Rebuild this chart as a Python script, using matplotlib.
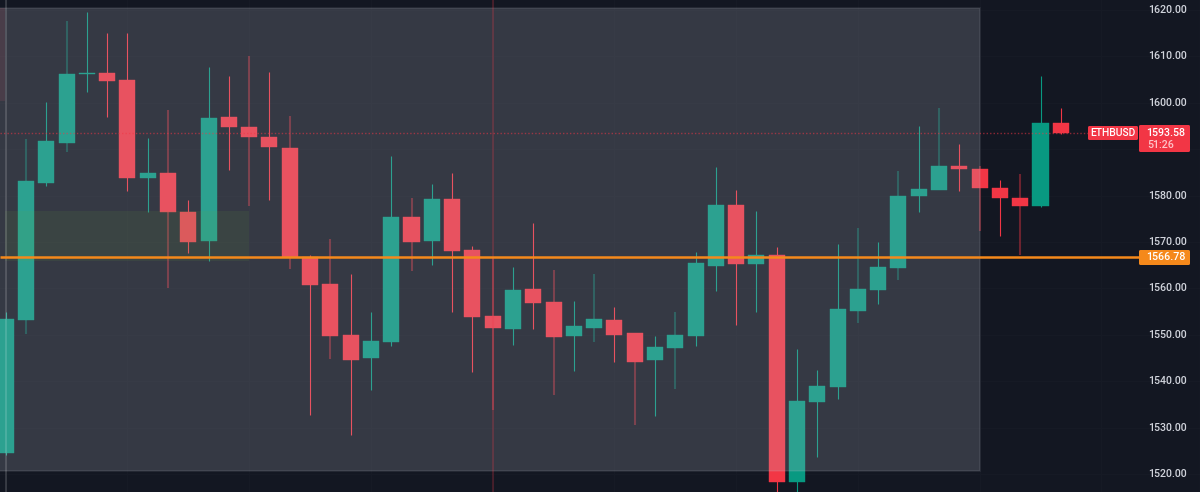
import matplotlib
matplotlib.use('Agg')
import matplotlib.pyplot as plt
from matplotlib.patches import Rectangle, FancyBboxPatch
from matplotlib.transforms import IdentityTransform

W, H = 1200, 492
BG = '#131722'
UP = '#089981'
DOWN = '#f23645'
ORANGE = '#f5891b'

# first candle sits half cut off at the left edge, so index starts at -1
first_index = -1
opens = [1524.5, 1553.2, 1582.7, 1591.3, 1606.3, 1606.5, 1604.9, 1583.8, 1584.8, 1576.5,
         1570.2, 1596.9, 1594.8, 1592.6, 1590.3, 1566.8, 1560.9, 1550.0, 1545.0, 1548.4,
         1575.4, 1570.2, 1579.3, 1568.3, 1554.1, 1551.2, 1559.9, 1557.1, 1549.7, 1551.5,
         1553.2, 1550.4, 1544.6, 1547.2, 1549.7, 1564.8, 1578.0, 1565.3, 1567.2, 1518.3,
         1535.5, 1538.8, 1555.1, 1559.7, 1564.4, 1579.9, 1581.2, 1586.4, 1585.7, 1581.6,
         1579.5, 1577.8, 1595.6]
closes = [1553.4, 1583.1, 1591.8, 1606.3, 1606.5, 1604.7, 1583.8, 1584.9, 1576.5, 1570.0,
          1596.7, 1594.8, 1592.6, 1590.5, 1566.8, 1560.7, 1549.7, 1544.6, 1548.7, 1575.4,
          1570.0, 1579.3, 1568.1, 1553.8, 1551.5, 1559.7, 1556.9, 1549.5, 1551.9, 1553.4,
          1550.0, 1544.1, 1547.4, 1550.0, 1565.5, 1578.0, 1565.3, 1567.2, 1518.3, 1535.7,
          1539.0, 1555.6, 1559.9, 1564.6, 1579.9, 1581.4, 1586.4, 1585.7, 1581.6, 1579.5,
          1577.8, 1595.6, 1593.58]
highs = [1554.9, 1592.2, 1600.2, 1617.6, 1619.6, 1615.0, 1615.0, 1592.4, 1598.4, 1579.1,
         1607.7, 1605.8, 1610.1, 1606.6, 1597.2, 1567.2, 1570.6, 1563.1, 1554.9, 1588.5,
         1579.5, 1582.5, 1584.9, 1569.1, 1566.8, 1564.6, 1574.1, 1564.0, 1557.3, 1563.1,
         1556.0, 1550.4, 1549.7, 1554.9, 1567.8, 1586.2, 1581.2, 1576.7, 1568.9, 1546.9,
         1542.4, 1569.6, 1573.0, 1570.0, 1585.3, 1595.0, 1598.9, 1591.1, 1586.4, 1583.4,
         1584.7, 1605.8, 1598.9]
lows = [1524.1, 1550.2, 1582.0, 1589.4, 1602.3, 1597.0, 1581.0, 1576.5, 1560.1, 1567.6,
        1565.9, 1585.5, 1577.8, 1579.1, 1564.2, 1532.7, 1544.8, 1528.4, 1538.1, 1547.6,
        1563.8, 1565.0, 1554.9, 1542.0, 1533.8, 1547.8, 1551.2, 1537.0, 1542.2, 1548.4,
        1544.1, 1530.6, 1532.5, 1538.3, 1547.6, 1559.4, 1552.1, 1554.9, 1515.5, 1515.5,
        1523.7, 1536.2, 1552.5, 1556.6, 1561.8, 1576.5, 1581.2, 1581.0, 1572.4, 1571.3,
        1567.2, 1577.5, 1593.3]

price_ticks = [1520, 1530, 1540, 1550, 1560, 1570, 1580, 1590, 1600, 1610, 1620]
last_price = 1593.58
level_price = 1566.78
symbol = 'ETHBUSD'
countdown = '51:26'
cursor_index = 23

# wicks that land between two pixels in the screenshot and look thicker and duller
wide_wicks = [0, 2, 7, 11, 13, 15, 19, 23, 26, 28, 30, 32, 41, 43, 45, 47, 49]


def px_x(x):
    return (x - 26) / 20.29


def px_y(y):
    return 1620 - (y - 10) / 4.64


def add_label(x0, y0, x1, y1, color):
    # boxes on the price scale, given in screen pixels from the top
    fig.add_artist(FancyBboxPatch((x0 + 1, H - y1 + 1), x1 - x0 - 2, y1 - y0 - 2,
                                  boxstyle='round,pad=1,rounding_size=1.5',
                                  fc=color, ec='none', transform=IdentityTransform(), zorder=5))


def add_label_text(x, y, s, color='white', size=7.7):
    fig.text(x / W, 1 - y / H, s, color=color, fontsize=size, family='Roboto',
             weight='medium', ha='center', va='center', zorder=6)


fig = plt.figure(figsize=(W / 100, H / 100), dpi=100, facecolor=BG)
ax = fig.add_axes([0, 0, 1, 1], facecolor=BG)
for s in ax.spines.values():
    s.set_visible(False)

ax.set_axisbelow(True)
ax.set_xticks(range(-1, 60, 6))
ax.set_yticks(price_ticks)
ax.set_yticklabels([f'{p:.2f}' for p in price_ticks])
ax.grid(True, color='#161a25', lw=0.8)
ax.tick_params(axis='x', length=0, labelbottom=False)
ax.tick_params(axis='y', length=0, left=False, labelleft=False, labelright=True,
               pad=-37.5, labelcolor='#d1d4dc', labelsize=7.7)
for lab in ax.get_yticklabels():
    lab.set_family('Roboto')
    lab.set_weight('medium')
    lab.set_verticalalignment('center')

for k in range(len(opens)):
    i = first_index + k
    color = UP if closes[k] >= opens[k] else DOWN
    if i in wide_wicks:
        ax.vlines(i, lows[k], highs[k], color=color, lw=1.5, alpha=0.4, zorder=3)
    else:
        ax.vlines(i, lows[k], highs[k], color=color, lw=0.8, zorder=3)
    ax.bar(i, abs(closes[k] - opens[k]), bottom=min(opens[k], closes[k]), width=0.79,
           color=color, edgecolor=color, lw=0.3, zorder=3.5)

# grey drawing box over the candles
ax.add_patch(Rectangle((px_x(-5), px_y(471)), px_x(980) - px_x(-5), px_y(8) - px_y(471),
                       fc=(0.76, 0.776, 0.82, 0.195), ec=(0.76, 0.776, 0.82, 0.12), lw=1.2, zorder=4))
# green zone inside it
ax.add_patch(Rectangle((px_x(5), px_y(261)), px_x(249) - px_x(5), px_y(211) - px_y(261),
                       fc=(0.41, 0.66, 0.23, 0.1), ec='none', zorder=5))
# leftover of a red zone at the top left
ax.add_patch(Rectangle((px_x(-5), px_y(101)), px_x(5) - px_x(-5), px_y(8) - px_y(101),
                       fc=(1, 0.39, 0.47, 0.1), ec='none', zorder=5))
ax.axvline(first_index, color='white', alpha=0.16, lw=1.3, zorder=5)

ax.axvline(cursor_index, color=DOWN, alpha=0.22, lw=1.5, zorder=6)
ax.hlines(last_price, px_x(0), px_x(1090), color=DOWN, alpha=0.55, lw=1, ls=(0, (1, 1.5)), zorder=6)
ax.hlines(level_price, px_x(0), px_x(1140), color=ORANGE, lw=1.8, zorder=7)
ax.axvline(px_x(1199.5), color='#2a2e39', lw=0.8, zorder=2)

# set the limits last, set_xticks and the bars widen them
ax.set_xlim(px_x(0), px_x(W))
ax.set_ylim(px_y(H), px_y(0))

add_label(1088, 126, 1138, 140, DOWN)
add_label(1139, 125, 1190, 152, DOWN)
add_label(1139, 250, 1190, 265, ORANGE)
add_label_text(1113, 133, symbol, size=7.4)
add_label_text(1166, 133, f'{last_price:.2f}')
add_label_text(1161, 145, countdown, '#ffc4c9')
add_label_text(1166, 257.5, f'{level_price:.2f}')

fig.savefig('out.png', dpi=100, facecolor=BG)
